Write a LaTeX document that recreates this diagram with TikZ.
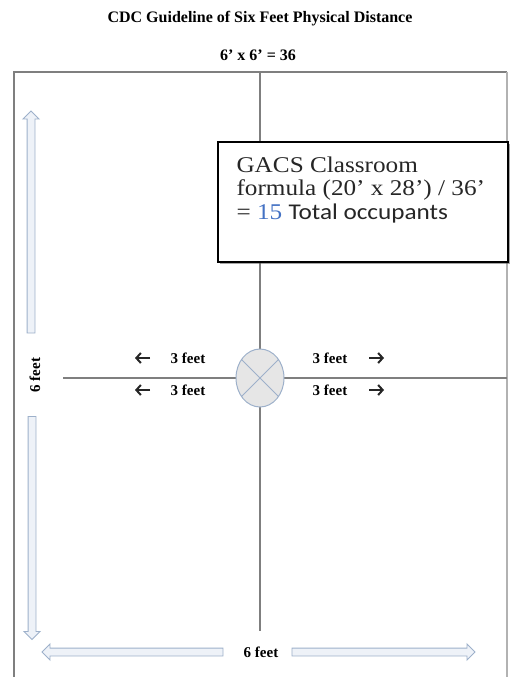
\documentclass[tikz,border=0pt]{standalone}
\usepackage{fontspec}
\setmainfont{Liberation Serif}
\newfontfamily\boxserif[FakeStretch=1.12]{Liberation Serif}
\newfontfamily\boxsans[FakeStretch=1.12]{Carlito}
\usetikzlibrary{arrows.meta, shapes.geometric, shapes.arrows, shadows, positioning}
\definecolor{linegray}{HTML}{7F7F7F}
\definecolor{arrowline}{HTML}{9DB0CA}
\definecolor{arrowfill}{HTML}{EEF2F8}
\definecolor{markfill}{HTML}{E6E6E6}
\definecolor{numblue}{HTML}{4472C4}
\tikzset{
    heading/.style={font=\fontsize{16}{18}\selectfont\bfseries},
    feetlabel/.style={font=\fontsize{15}{18}\selectfont\bfseries, inner sep=0pt},
    smallarrow/.style={-{Straight Barb[length=4.5pt, width=10pt]}, line width=2pt, black!85},
    blockarrow/.style={
        single arrow,
        draw=arrowline,
        fill=arrowfill,
        line width=0.9pt,
        inner xsep=0pt,
        inner ysep=3.5pt,
        single arrow head extend=4pt
    },
    crossline/.style={draw=linegray, line width=1.3pt},
    frameline/.style={draw=linegray, line width=1.5pt},
    personmark/.style={
        ellipse,
        draw=arrowline,
        fill=markfill,
        line width=1pt,
        minimum width=48pt,
        minimum height=58pt,
        inner sep=0pt
    },
    formulabox/.style={
        draw,
        fill=white,
        line width=1.3pt,
        minimum width=290pt,
        minimum height=120pt,
        drop shadow={shadow xshift=1.5pt, shadow yshift=-1.5pt, fill=black!70}
    },
    formulatext/.style={font=\fontsize{22.5}{23.5}\selectfont\boxserif, align=left, inner sep=0pt, text=black!85}
}

\begin{document}
\begin{tikzpicture}[x=1pt, y=-1pt]
\useasboundingbox (0,0) rectangle (514,677);
% title
\node[heading] (title) at (260,19) {CDC Guideline of Six Feet Physical Distance};
\node[heading] (area) at (258,55) {6' x 6' = 36};

% frame and cross
\draw[frameline] (14,677) -- (14,72) -- (507,72);
\draw[frameline, draw=linegray!60] (507,72) -- (507,677);
\coordinate (vtop) at (260,72);
\coordinate (vbot) at (260,631);
\coordinate (hleft) at (63,378);
\coordinate (hright) at (507,378);
\draw[crossline] (vtop) -- (vbot);
\draw[crossline] (hleft) -- (hright);

% person
\node[personmark] (person) at (260,378) {};
\draw[arrowline, line width=1pt] (person.135) -- (person.-45) (person.45) -- (person.-135);

% 3 feet each way
\node[feetlabel] (ul) at (188,358) {3 feet};
\node[feetlabel] (ll) at (188,390) {3 feet};
\node[feetlabel] (ur) at (330,358) {3 feet};
\node[feetlabel] (lr) at (330,390) {3 feet};
\coordinate (ultail) at (150,358);
\coordinate (ulhead) at (135,358);
\coordinate (lltail) at (150,390);
\coordinate (llhead) at (135,390);
\coordinate (urtail) at (369,358);
\coordinate (urhead) at (384,358);
\coordinate (lrtail) at (369,390);
\coordinate (lrhead) at (384,390);
\draw[smallarrow] (ultail) -- (ulhead);
\draw[smallarrow] (lltail) -- (llhead);
\draw[smallarrow] (urtail) -- (urhead);
\draw[smallarrow] (lrtail) -- (lrhead);

% 6 feet arrows
\node[blockarrow, rotate=90, minimum height=222pt] (uparrow) at (31,224) {};
\node[blockarrow, rotate=-90, minimum height=223pt] (downarrow) at (32,526) {};
\node[feetlabel, rotate=90] (sidelabel) at (35,375) {6 feet};
\node[blockarrow, rotate=180, minimum height=181pt] (leftarrow) at (134.5,652) {};
\node[blockarrow, minimum height=183pt] (rightarrow) at (381.5,652) {};
\node[feetlabel] (baselabel) at (261,652) {6 feet};

% formula box
\node[formulabox] (box) at (363,202) {};
\node[formulatext, anchor=north west] (formula) at ([shift={(19,15)}]box.north west)
    {GACS Classroom\\formula (20’ x 28’) / 36’\\= {\color{numblue}15} {\boxsans Total occupants}};
\end{tikzpicture}
\end{document}
